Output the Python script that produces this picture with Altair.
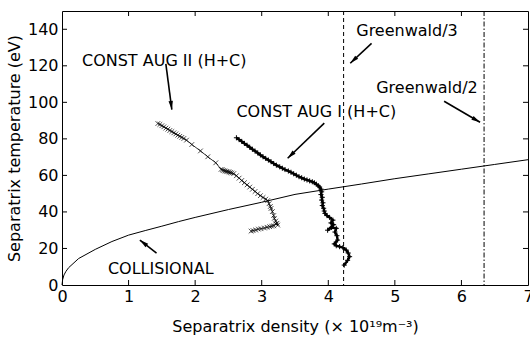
import math
import altair as alt
import pandas as pd

# ---------------- data ----------------
aug2_n = [1.44, 1.47, 1.50, 1.53, 1.56, 1.59, 1.62, 1.65, 1.68, 1.71, 1.74, 1.77, 1.80, 1.83, 1.87,
          1.95, 2.08, 2.19, 2.31,
          2.39, 2.41, 2.43, 2.45, 2.47, 2.49, 2.51, 2.53, 2.55, 2.58,
          2.62, 2.66, 2.70, 2.74, 2.78, 2.82, 2.86, 2.90, 2.94, 2.98, 3.02, 3.06, 3.09,
          3.11, 3.13, 3.14, 3.16, 3.18, 3.19, 3.21, 3.23, 3.24,
          3.21, 3.18, 3.15, 3.12, 3.08, 3.04, 2.99, 2.95, 2.91, 2.87, 2.84]
aug2_T = [88.4, 87.9, 87.2, 86.6, 85.9, 85.3, 84.6, 84.0, 83.3, 82.7, 82.0, 81.4, 80.8, 80.2, 79.3,
          76.9, 73.4, 70.2, 66.9,
          63.3, 63.0, 62.7, 62.4, 62.2, 62.0, 61.8, 61.6, 61.3, 61.0,
          59.8, 58.5, 57.2, 56.0, 54.8, 53.6, 52.4, 51.2, 50.0, 48.9, 47.9, 47.0, 46.2,
          44.5, 43.0, 41.9, 40.2, 38.0, 36.5, 35.0, 33.8, 32.8,
          33.5, 32.4, 32.2, 31.9, 31.6, 31.2, 30.8, 30.6, 30.1, 29.8, 29.5]

aug1_n = [2.62, 2.66, 2.70, 2.74, 2.78, 2.82, 2.86, 2.90, 2.94, 2.98, 3.02, 3.06, 3.10, 3.14, 3.18,
          3.22, 3.27, 3.31, 3.35, 3.40, 3.44, 3.48, 3.52, 3.56, 3.60, 3.64, 3.68, 3.72, 3.76, 3.79,
          3.82, 3.85, 3.87, 3.89, 3.90, 3.89, 3.91, 3.90, 3.92, 3.91, 3.93, 3.94, 3.95, 3.98, 4.02,
          4.07, 4.04, 4.08, 3.99, 4.05, 4.12, 4.10, 4.13, 4.14, 4.09, 4.12, 4.17, 4.22, 4.27, 4.30,
          4.32, 4.29, 4.24]
aug1_T = [80.6, 79.6, 78.6, 77.5, 76.5, 75.4, 74.3, 73.3, 72.3, 71.2, 70.2, 69.3, 68.4, 67.5, 66.5,
          65.6, 64.7, 63.9, 63.2, 62.4, 61.7, 60.9, 60.1, 59.3, 58.7, 58.0, 57.5, 57.0, 56.5, 56.0,
          55.2, 54.3, 53.6, 52.5, 51.0, 49.5, 48.0, 46.5, 45.0, 43.5, 42.0, 40.5, 39.2, 38.0, 37.0,
          35.5, 34.0, 33.0, 30.0, 31.5, 31.0, 29.0, 27.0, 24.6, 22.5, 21.5, 21.0, 20.5, 19.1, 17.5,
          15.5, 13.5, 10.9]

coll_n = [0.0, 0.01, 0.03, 0.06, 0.10, 0.25, 0.50, 0.75, 1.00, 1.25, 1.50, 1.75, 2.00, 2.50,
          3.00, 3.50, 4.00, 4.50, 5.00, 5.50, 6.00, 6.50, 7.00]
coll_T = [0.0, 3.0, 5.5, 7.5, 9.5, 14.5, 19.5, 23.8, 27.3, 29.8, 32.2, 34.7, 37.0, 41.3,
          45.3, 49.6, 52.5, 55.3, 58.2, 60.8, 63.4, 66.0, 68.6]

greenwald3 = [4.23]
greenwald2 = [6.34]

labels = ["CONST AUG II (H+C)", "CONST AUG I (H+C)", "Greenwald/3", "Greenwald/2", "COLLISIONAL"]
label_n = [0.30, 2.62, 4.42, 4.72, 0.69]
label_T = [122.5, 94.6, 139.0, 107.7, 8.7]

arrow_n1 = [1.56, 3.94, 4.65, 5.74, 1.42]
arrow_T1 = [121.0, 88.6, 132.3, 100.6, 17.5]
arrow_n2 = [1.65, 3.39, 4.33, 6.28, 1.17]
arrow_T2 = [96.0, 69.4, 121.4, 89.1, 24.6]

x_ticks = [0, 1, 2, 3, 4, 5, 6, 7]
y_ticks = [0, 20, 40, 60, 80, 100, 120, 140]

# ---------------- layout ----------------
W, H = 466, 274
XMAX, YMAX = 7.0, 150.0
FONT = "DejaVu Sans"
tick_px = 5
tlx = tick_px * XMAX / W
tly = tick_px * YMAX / H

xs = alt.Scale(domain=[0, XMAX], nice=False, zero=False)
ys = alt.Scale(domain=[0, YMAX], nice=False, zero=False)

xaxis = alt.Axis(values=x_ticks, format="d", ticks=False, grid=False, domain=False,
                 labelFont=FONT, labelFontSize=16, labelColor="black", labelPadding=3,
                 labelOverlap=False, labelFlush=False,
                 title="Separatrix density (× 10¹⁹m⁻³)",
                 titleFont=FONT, titleFontSize=16, titleFontWeight="normal", titleColor="black",
                 titlePadding=14)
yaxis = alt.Axis(values=y_ticks, format="d", ticks=False, grid=False, domain=False,
                 labelFont=FONT, labelFontSize=16, labelColor="black", labelPadding=4,
                 labelOverlap=False, labelFlush=False,
                 title="Separatrix temperature (eV)", titleFont=FONT, titleFontSize=16,
                 titleFontWeight="normal", titleColor="black", titlePadding=5)


def X(f):
    return alt.X(f, scale=xs, axis=xaxis)


def Y(f):
    return alt.Y(f, scale=ys, axis=yaxis)


coll_df = pd.DataFrame({"n": coll_n, "T": coll_T, "i": range(len(coll_n))})
aug1_df = pd.DataFrame({"n": aug1_n, "T": aug1_T, "i": range(len(aug1_n))})
aug2_df = pd.DataFrame({"n": aug2_n, "T": aug2_T, "i": range(len(aug2_n))})

coll = alt.Chart(coll_df).mark_line(color="black", strokeWidth=1).encode(
    x=X("n:Q"), y=Y("T:Q"), order="i:Q")

aug2_line = alt.Chart(aug2_df).mark_line(color="black", strokeWidth=0.8).encode(
    x=X("n:Q"), y=Y("T:Q"), order="i:Q")
aug2_pts = alt.Chart(aug2_df).mark_point(shape="M-1,-1L1,1M-1,1L1,-1", size=22, color="black",
                                         strokeWidth=0.7, filled=False, opacity=1).encode(
    x=X("n:Q"), y=Y("T:Q"))

aug1_line = alt.Chart(aug1_df).mark_line(color="black", strokeWidth=2.4).encode(
    x=X("n:Q"), y=Y("T:Q"), order="i:Q")
aug1_pts = alt.Chart(aug1_df).mark_point(shape="M-1,0L1,0M0,-1L0,1", size=26, color="black",
                                         strokeWidth=1, filled=False, opacity=1).encode(
    x=X("n:Q"), y=Y("T:Q"))

g3 = alt.Chart(pd.DataFrame({"n": greenwald3})).mark_rule(color="black", strokeWidth=1,
                                                           strokeDash=[4, 3]).encode(x=X("n:Q"))
g2 = alt.Chart(pd.DataFrame({"n": greenwald2})).mark_rule(color="black", strokeWidth=1,
                                                           strokeDash=[5, 2, 1.5, 2]).encode(x=X("n:Q"))

text_df = pd.DataFrame({"label": labels, "n": label_n, "T": label_T})
texts = alt.Chart(text_df).mark_text(align="left", baseline="middle", font=FONT, fontSize=16,
                                     color="black").encode(x=X("n:Q"), y=Y("T:Q"), text="label:N")

sx, sy = W / XMAX, H / YMAX
angles = []
for a, b, c, d in zip(arrow_n1, arrow_T1, arrow_n2, arrow_T2):
    dx = (c - a) * sx
    dy = -(d - b) * sy
    angles.append(math.degrees(math.atan2(dx, -dy)) % 360)
arr_df = pd.DataFrame({"n": arrow_n1, "T": arrow_T1, "n2": arrow_n2, "T2": arrow_T2,
                       "ang": angles})
arr_lines = alt.Chart(arr_df).mark_rule(color="black", strokeWidth=1.6).encode(
    x=X("n:Q"), y=Y("T:Q"), x2="n2:Q", y2="T2:Q")
arr_heads = alt.Chart(arr_df).mark_point(shape="M0,0L-0.55,2.2L0.55,2.2Z", size=64, filled=True,
                                         color="black", opacity=1, strokeWidth=0).encode(
    x=X("n2:Q"), y=Y("T2:Q"), angle=alt.Angle("ang:Q", scale=None))

# inward ticks on all four sides of the frame
xt = [v for v in x_ticks if 0 < v < XMAX]
yt = [v for v in y_ticks if 0 < v < YMAX]
bt = pd.DataFrame({"n": xt, "T": [0.0] * len(xt), "T2": [tly] * len(xt)})
tt = pd.DataFrame({"n": xt, "T": [YMAX] * len(xt), "T2": [YMAX - tly] * len(xt)})
lt = pd.DataFrame({"T": yt, "n": [0.0] * len(yt), "n2": [tlx] * len(yt)})
rt = pd.DataFrame({"T": yt, "n": [XMAX] * len(yt), "n2": [XMAX - tlx] * len(yt)})


def vt(df):
    return alt.Chart(df).mark_rule(color="black", strokeWidth=1).encode(
        x=X("n:Q"), y=Y("T:Q"), y2="T2:Q")


def ht(df):
    return alt.Chart(df).mark_rule(color="black", strokeWidth=1).encode(
        y=Y("T:Q"), x=X("n:Q"), x2="n2:Q")


chart = alt.layer(
    coll, g3, g2, aug2_line, aug2_pts, aug1_line, aug1_pts, arr_lines, arr_heads, texts,
    vt(bt), vt(tt), ht(lt), ht(rt)
).properties(
    width=W, height=H,
    autosize=alt.AutoSizeParams(type="none"),
    padding={"left": 62, "top": 11, "right": 2, "bottom": 55},
    background="white",
).configure_view(stroke="black", strokeWidth=1).configure_axis(labelOverlap=False)

chart.save("out.html", embed_options={"renderer": "svg", "actions": False})
